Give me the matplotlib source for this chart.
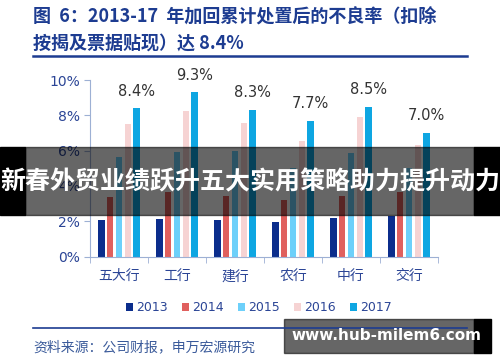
import matplotlib.pyplot as plt
import numpy as np
from matplotlib.patches import Rectangle

plt.rcParams['font.family'] = ['Noto Sans CJK SC', 'DejaVu Sans']

banks = ['五大行', '工行', '建行', '农行', '中行', '交行']
years = ['2013', '2014', '2015', '2016', '2017']
v2013 = [2.1, 2.15, 2.07, 1.95, 2.18, 2.3]
v2014 = [3.4, 3.67, 3.43, 3.2, 3.43, 3.67]
v2015 = [5.66, 5.94, 5.98, 5.0, 5.85, 5.0]
v2016 = [7.49, 8.25, 7.55, 6.57, 7.92, 6.32]
v2017 = [8.4, 9.3, 8.3, 7.7, 8.5, 7.0]
colors = ['#0b2d8c', '#e0605e', '#6dd0fa', '#f6d3d3', '#0ea6e2']

fig = plt.figure(figsize=(5, 3.62), dpi=100)
ax = fig.add_axes([0.18, 0.291, 0.696, 0.488])

series = [v2013, v2014, v2015, v2016, v2017]
x = np.arange(len(banks))
step = 0.153
w = 0.115
for k, (vals, c) in enumerate(zip(series, colors)):
    ax.bar(x + (k - 2) * step, vals, width=w, color=c, label=years[k])

for i, v in enumerate(v2017):
    ax.annotate('%.1f%%' % v, (x[i] + 2 * step, v), xytext=(0, 7),
                textcoords='offset points', ha='center', va='bottom',
                fontsize=10.5, color='#333333', family='DejaVu Sans')

ax.set_xlim(-0.5, 5.5)
ax.set_ylim(0, 10)
ax.set_yticks([0, 2, 4, 6, 8, 10])
ax.set_yticklabels(['%d%%' % t for t in [0, 2, 4, 6, 8, 10]],
                   fontsize=10, color='#2b4596', family='DejaVu Sans')
ax.set_xticks(x)
ax.set_xticklabels(banks, fontsize=10, color='#2b4596')
ax.set_xticks(np.arange(-0.5, 6, 1), minor=True)
ax.tick_params(axis='x', which='major', length=0, pad=9)
ax.tick_params(axis='x', which='minor', length=4, color='#9db0d4', direction='out')
ax.tick_params(axis='y', length=4, color='#9db0d4', direction='out', pad=3)
for s in ['top', 'right']:
    ax.spines[s].set_visible(False)
for s in ['left', 'bottom']:
    ax.spines[s].set_color('#9db0d4')

leg = ax.legend(loc='upper center', bbox_to_anchor=(0.485, -0.19), ncol=5,
                frameon=False, fontsize=9, handlelength=0.6, handleheight=0.6,
                columnspacing=1.1, handletextpad=0.25)
for t in leg.get_texts():
    t.set_color('#2b4596')
    t.set_family('DejaVu Sans')

# title and rules
fig.text(33 / 500, 1 - 17 / 362, '图  6：2013-17  年加回累计处置后的不良率（扣除',
         fontsize=13, fontweight='bold', color='#1d3c91', va='center')
fig.text(33 / 500, 1 - 43 / 362, '按揭及票据贴现）达 8.4%',
         fontsize=13, fontweight='bold', color='#1d3c91', va='center')
fig.add_artist(plt.Line2D([33 / 500, 467 / 500], [1 - 56 / 362] * 2,
                          color='#1d3c91', lw=1.8))
fig.add_artist(plt.Line2D([33 / 500, 467 / 500], [1 - 328 / 362] * 2,
                          color='#1d3c91', lw=1.2))
fig.text(33 / 500, 1 - 347 / 362, '资料来源：公司财报，申万宏源研究',
         fontsize=10, color='#3a5a9a', va='center')

# overlay banners
fig.add_artist(Rectangle((0, 1 - 215 / 362), 25 / 500, 68 / 362,
                         transform=fig.transFigure, color='black'))
fig.add_artist(Rectangle((474 / 500, 1 - 215 / 362), 26 / 500, 68 / 362,
                         transform=fig.transFigure, color='black'))
fig.add_artist(Rectangle((25 / 500, 1 - 215 / 362), 449 / 500, 68 / 362,
                         transform=fig.transFigure, color='black', alpha=0.6))
fig.text(0.5, 1 - 182 / 362, '新春外贸业绩跃升五大实用策略助力提升动力',
         fontsize=18, fontweight='bold', color='white', ha='center', va='center')

fig.add_artist(Rectangle((474 / 500, 1 - 353 / 362), 17 / 500, 34 / 362,
                         transform=fig.transFigure, color='black'))
fig.add_artist(Rectangle((284 / 500, 1 - 353 / 362), 190 / 500, 34 / 362,
                         transform=fig.transFigure, color='black', alpha=0.6))
fig.text(386 / 500, 1 - 336 / 362, 'www.hub-milem6.com',
         fontsize=11, fontweight='bold', color='white', ha='center', va='center',
         family='DejaVu Sans')

fig.savefig('out.png', dpi=100)
